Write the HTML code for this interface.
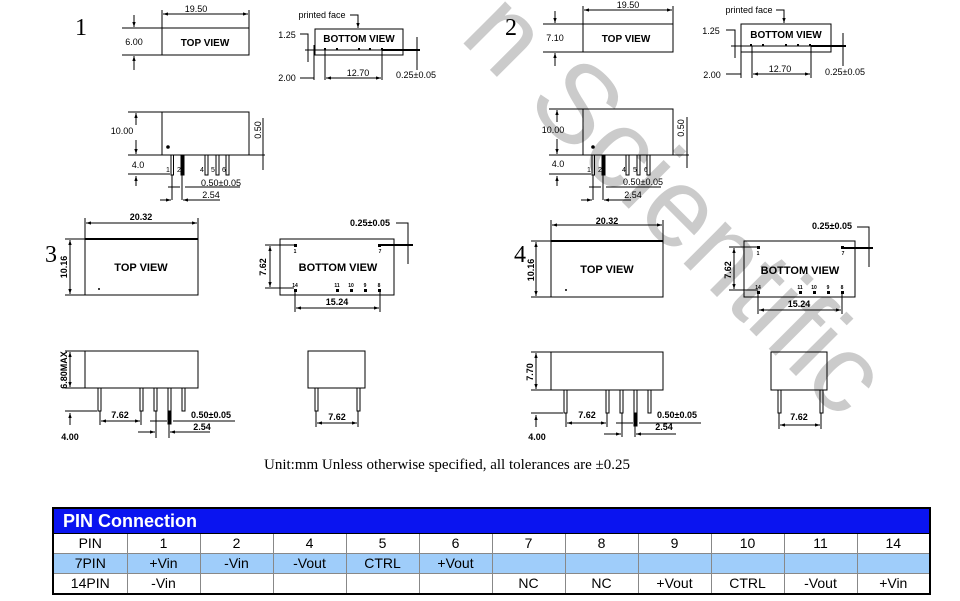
<!DOCTYPE html>
<html><head><meta charset="utf-8">
<style>
html,body{margin:0;padding:0;background:#fff;width:960px;height:601px;overflow:hidden}
svg{position:absolute;left:0;top:0}
.b{font-family:"Liberation Sans",Arial,sans-serif;font-weight:bold}
.n{font-family:"Liberation Sans",Arial,sans-serif}
.s{font-family:"Liberation Serif",serif}
table{position:absolute;left:52px;top:507px;width:877px;border-collapse:collapse;border:2px solid #000;font-family:"Liberation Sans",Arial,sans-serif;font-size:14px;table-layout:fixed}
td{border:1px solid #888;text-align:center;height:19px;padding:0;line-height:19px;overflow:hidden}
td.h{background:#0a14f0;color:#fff;font-weight:bold;font-size:18px;text-align:left;padding-left:9px;height:24px;line-height:24px;border:1px solid #000}
tr.c td{background:#9fcdfa}
</style></head><body>
<svg width="960" height="601" viewBox="0 0 960 601">
<text x="458" y="38" transform="rotate(45 458 38)" font-family="Liberation Sans,sans-serif" font-size="112" fill="#cbcbcb">n Scientific</text>
<defs>
<marker id="a" viewBox="0 0 6 6" refX="6" refY="3" markerWidth="5" markerHeight="5" orient="auto-start-reverse"><path d="M0,1 L6,3 L0,5z" fill="#000"/></marker>
</defs>
<g stroke="#000" stroke-width="1" fill="none">
<g id="d1">
<rect x="162" y="28" width="87" height="27"/>
<line x1="162" y1="10" x2="162" y2="28"/><line x1="249" y1="10" x2="249" y2="28"/>
<line x1="163" y1="14" x2="248" y2="14" marker-start="url(#a)" marker-end="url(#a)"/>
<line x1="122" y1="28" x2="162" y2="28"/><line x1="122" y1="55" x2="162" y2="55"/>
<line x1="134" y1="15" x2="134" y2="27" marker-end="url(#a)"/><line x1="134" y1="70" x2="134" y2="56" marker-end="url(#a)"/>
<rect x="315" y="29" width="88" height="26"/>
<polyline points="350,15 358,15 358,28" marker-end="url(#a)"/>
<line x1="305" y1="50" x2="382" y2="50"/><line x1="382" y1="50" x2="420" y2="50" stroke-width="2"/>
<line x1="314" y1="45" x2="314" y2="80"/><line x1="325" y1="50" x2="325" y2="80"/><line x1="382" y1="50" x2="382" y2="80"/>
<line x1="326" y1="78" x2="381" y2="78" marker-start="url(#a)" marker-end="url(#a)"/>
<line x1="300" y1="78" x2="314" y2="78"/>
<polyline points="300,34 308,34 308,62"/>
<line x1="417" y1="37" x2="417" y2="70"/>
<rect x="162" y="112" width="87" height="43"/>
<line x1="128" y1="112" x2="162" y2="112"/><line x1="128" y1="155" x2="162" y2="155"/>
<line x1="136" y1="113" x2="136" y2="125" marker-start="url(#a)"/><line x1="136" y1="140" x2="136" y2="154" marker-end="url(#a)"/>
<line x1="128" y1="174" x2="170" y2="174"/><line x1="136" y1="186" x2="136" y2="176" marker-end="url(#a)"/>
<line x1="249" y1="155" x2="265" y2="155"/><line x1="263" y1="118" x2="263" y2="170"/>
<rect x="171" y="155" width="2.5" height="20"/><rect x="181" y="155" width="3" height="20" fill="#000"/>
<rect x="205" y="155" width="3" height="20"/><rect x="216" y="155" width="3" height="20"/><rect x="226" y="155" width="3" height="20"/>
<line x1="172" y1="175" x2="172" y2="200"/><line x1="182" y1="175" x2="182" y2="200"/>
<line x1="168" y1="187" x2="180" y2="187"/><line x1="185" y1="187" x2="240" y2="187"/>
<line x1="160" y1="200" x2="171" y2="200" marker-end="url(#a)"/><line x1="210" y1="200" x2="183" y2="200" marker-end="url(#a)"/><line x1="210" y1="200" x2="220" y2="200"/>
</g>
<g transform="translate(421,-4)">
<rect x="162" y="28" width="90" height="28"/>
<line x1="162" y1="10" x2="162" y2="28"/><line x1="252" y1="10" x2="252" y2="28"/>
<line x1="163" y1="14" x2="251" y2="14" marker-start="url(#a)" marker-end="url(#a)"/>
<line x1="122" y1="28" x2="162" y2="28"/><line x1="122" y1="56" x2="162" y2="56"/>
<line x1="134" y1="15" x2="134" y2="27" marker-end="url(#a)"/><line x1="134" y1="70" x2="134" y2="57" marker-end="url(#a)"/>
<rect x="320" y="28" width="90" height="28"/>
<polyline points="355,14 363,14 363,27" marker-end="url(#a)"/>
<line x1="310" y1="50" x2="390" y2="50"/><line x1="390" y1="50" x2="425" y2="50" stroke-width="2"/>
<line x1="320" y1="45" x2="320" y2="82"/><line x1="331" y1="50" x2="331" y2="82"/><line x1="390" y1="50" x2="390" y2="82"/>
<line x1="332" y1="78" x2="389" y2="78" marker-start="url(#a)" marker-end="url(#a)"/>
<line x1="305" y1="78" x2="320" y2="78"/>
<polyline points="305,34 314,34 314,62"/>
<line x1="422" y1="37" x2="422" y2="70"/>
<rect x="162" y="113" width="90" height="46"/>
<line x1="128" y1="113" x2="162" y2="113"/><line x1="128" y1="159" x2="162" y2="159"/>
<line x1="136" y1="114" x2="136" y2="126" marker-start="url(#a)"/><line x1="136" y1="143" x2="136" y2="158" marker-end="url(#a)"/>
<line x1="128" y1="178" x2="170" y2="178"/><line x1="136" y1="190" x2="136" y2="180" marker-end="url(#a)"/>
<line x1="252" y1="159" x2="268" y2="159"/><line x1="266" y1="121" x2="266" y2="172"/>
<rect x="171" y="159" width="2.5" height="20"/><rect x="181" y="159" width="3" height="20" fill="#000"/>
<rect x="205" y="159" width="3" height="20"/><rect x="216" y="159" width="3" height="20"/><rect x="226" y="159" width="3" height="20"/>
<line x1="172" y1="179" x2="172" y2="204"/><line x1="182" y1="179" x2="182" y2="204"/>
<line x1="168" y1="191" x2="180" y2="191"/><line x1="185" y1="191" x2="240" y2="191"/>
<line x1="160" y1="204" x2="171" y2="204" marker-end="url(#a)"/><line x1="210" y1="204" x2="183" y2="204" marker-end="url(#a)"/>
</g>
<g id="d3">
<rect x="85" y="239" width="113" height="56"/><line x1="85" y1="239" x2="198" y2="239" stroke-width="2"/>
<line x1="85" y1="218" x2="85" y2="239"/><line x1="198" y1="218" x2="198" y2="239"/>
<line x1="86" y1="223" x2="197" y2="223" marker-start="url(#a)" marker-end="url(#a)"/>
<line x1="65" y1="239" x2="85" y2="239"/><line x1="65" y1="295" x2="85" y2="295"/>
<line x1="70" y1="240" x2="70" y2="294" marker-start="url(#a)" marker-end="url(#a)"/>
<rect x="280" y="239" width="114" height="56"/>
<line x1="265" y1="245" x2="294" y2="245"/><line x1="265" y1="288" x2="294" y2="288"/>
<line x1="270" y1="246" x2="270" y2="287" marker-start="url(#a)" marker-end="url(#a)"/>
<line x1="295" y1="290" x2="295" y2="312"/><line x1="380" y1="290" x2="380" y2="312"/>
<line x1="296" y1="308" x2="379" y2="308" marker-start="url(#a)" marker-end="url(#a)"/>
<polyline points="396,223 408,223 408,264"/><line x1="380" y1="245" x2="413" y2="245" stroke-width="2"/>
<rect x="85" y="351" width="113" height="37"/>
<line x1="65" y1="351" x2="85" y2="351"/><line x1="65" y1="388" x2="85" y2="388"/>
<line x1="70" y1="352" x2="70" y2="387" marker-start="url(#a)" marker-end="url(#a)"/>
<line x1="65" y1="411" x2="97" y2="411"/><line x1="70" y1="425" x2="70" y2="413" marker-end="url(#a)"/>
<rect x="98" y="388" width="3" height="23"/><rect x="140" y="388" width="3" height="23"/><rect x="154" y="388" width="3" height="23"/><rect x="168" y="388" width="3" height="23" /><rect x="182" y="388" width="3" height="23"/>
<line x1="100" y1="411" x2="100" y2="425"/><line x1="141" y1="411" x2="141" y2="425"/>
<line x1="101" y1="421" x2="140" y2="421" marker-start="url(#a)" marker-end="url(#a)"/>
<line x1="156" y1="411" x2="156" y2="438"/><line x1="169" y1="411" x2="169" y2="438"/><rect x="168" y="411" width="3" height="13" fill="#000"/>
<line x1="150" y1="421" x2="167" y2="421"/><line x1="173" y1="421" x2="235" y2="421"/>
<line x1="138" y1="432" x2="155" y2="432" marker-end="url(#a)"/><line x1="210" y1="432" x2="170" y2="432" marker-end="url(#a)"/>
<rect x="308" y="351" width="57" height="37"/>
<rect x="315" y="388" width="3" height="23"/><rect x="357" y="388" width="3" height="23"/>
<line x1="316" y1="411" x2="316" y2="427"/><line x1="358" y1="411" x2="358" y2="427"/>
<line x1="317" y1="423" x2="357" y2="423" marker-start="url(#a)" marker-end="url(#a)"/>
</g>
<g transform="translate(466,2)">
<rect x="85" y="239" width="112" height="56"/><line x1="85" y1="239" x2="197" y2="239" stroke-width="2"/>
<line x1="85" y1="218" x2="85" y2="239"/><line x1="197" y1="218" x2="197" y2="239"/>
<line x1="86" y1="223" x2="196" y2="223" marker-start="url(#a)" marker-end="url(#a)"/>
<line x1="65" y1="239" x2="85" y2="239"/><line x1="65" y1="295" x2="85" y2="295"/>
<line x1="70" y1="240" x2="70" y2="294" marker-start="url(#a)" marker-end="url(#a)"/>
<rect x="278" y="239" width="111" height="56"/>
<line x1="263" y1="245" x2="292" y2="245"/><line x1="263" y1="288" x2="292" y2="288"/>
<line x1="268" y1="246" x2="268" y2="287" marker-start="url(#a)" marker-end="url(#a)"/>
<line x1="292" y1="290" x2="292" y2="312"/><line x1="376" y1="290" x2="376" y2="312"/>
<line x1="293" y1="308" x2="375" y2="308" marker-start="url(#a)" marker-end="url(#a)"/>
<polyline points="391,225 403,225 403,265"/><line x1="376" y1="246" x2="407" y2="246" stroke-width="2"/>
<rect x="85" y="350" width="112" height="38"/>
<line x1="65" y1="350" x2="85" y2="350"/><line x1="65" y1="388" x2="85" y2="388"/>
<line x1="70" y1="351" x2="70" y2="387" marker-start="url(#a)" marker-end="url(#a)"/>
<line x1="65" y1="411" x2="97" y2="411"/><line x1="70" y1="425" x2="70" y2="413" marker-end="url(#a)"/>
<rect x="98" y="388" width="3" height="23"/><rect x="140" y="388" width="3" height="23"/><rect x="154" y="388" width="3" height="23"/><rect x="168" y="388" width="3" height="23"/><rect x="182" y="388" width="3" height="23"/>
<line x1="100" y1="411" x2="100" y2="425"/><line x1="141" y1="411" x2="141" y2="425"/>
<line x1="101" y1="421" x2="140" y2="421" marker-start="url(#a)" marker-end="url(#a)"/>
<line x1="156" y1="411" x2="156" y2="435"/><line x1="169" y1="411" x2="169" y2="435"/><rect x="168" y="411" width="3" height="13" fill="#000"/>
<line x1="150" y1="421" x2="167" y2="421"/><line x1="173" y1="421" x2="235" y2="421"/>
<line x1="138" y1="432" x2="155" y2="432" marker-end="url(#a)"/><line x1="210" y1="432" x2="170" y2="432" marker-end="url(#a)"/>
<rect x="305" y="350" width="56" height="38"/>
<rect x="312" y="388" width="3" height="23"/><rect x="354" y="388" width="3" height="23"/>
<line x1="313" y1="411" x2="313" y2="427"/><line x1="355" y1="411" x2="355" y2="427"/>
<line x1="314" y1="423" x2="354" y2="423" marker-start="url(#a)" marker-end="url(#a)"/>
</g>
</g>
<g fill="#000">
<rect x="324" y="48" width="2" height="2"/><rect x="336" y="48" width="2" height="2"/><rect x="358" y="48" width="2" height="2"/><rect x="369" y="48" width="2" height="2"/><rect x="381" y="48" width="2" height="2"/>
<rect x="750" y="44" width="2" height="2"/><rect x="762" y="44" width="2" height="2"/><rect x="785" y="44" width="2" height="2"/><rect x="797" y="44" width="2" height="2"/><rect x="809" y="44" width="2" height="2"/>
<circle cx="168" cy="147" r="1.8"/><circle cx="593" cy="147" r="1.8"/>
<circle cx="99" cy="289" r="1"/><circle cx="566" cy="290" r="1"/>
<g><rect x="294" y="244" width="3" height="3"/><rect x="378" y="244" width="3" height="3"/><rect x="294" y="289" width="3" height="3"/><rect x="336" y="289" width="3" height="3"/><rect x="350" y="289" width="3" height="3"/><rect x="364" y="289" width="3" height="3"/><rect x="378" y="289" width="3" height="3"/></g>
<g transform="translate(463,2)"><rect x="294" y="244" width="3" height="3"/><rect x="378" y="244" width="3" height="3"/><rect x="294" y="289" width="3" height="3"/><rect x="336" y="289" width="3" height="3"/><rect x="350" y="289" width="3" height="3"/><rect x="364" y="289" width="3" height="3"/><rect x="378" y="289" width="3" height="3"/></g>
</g>
<g class="s" font-size="24">
<text x="75" y="35">1</text><text x="505" y="35">2</text><text x="45" y="262">3</text><text x="514" y="262">4</text>
</g>
<g class="b" font-size="10" text-anchor="middle">
<text x="205" y="46">TOP VIEW</text><text x="626" y="42">TOP VIEW</text>
<text x="359" y="42">BOTTOM VIEW</text><text x="786" y="38">BOTTOM VIEW</text>
<text x="141" y="271" font-size="11">TOP VIEW</text><text x="607" y="273" font-size="11">TOP VIEW</text>
<text x="338" y="271" font-size="11">BOTTOM VIEW</text><text x="800" y="274" font-size="11">BOTTOM VIEW</text>
<text x="141" y="220" font-size="9">20.32</text><text x="607" y="224" font-size="9">20.32</text>
<text x="337" y="305" font-size="9">15.24</text><text x="799" y="307" font-size="9">15.24</text>
<text x="370" y="226" font-size="9">0.25±0.05</text><text x="832" y="229" font-size="9">0.25±0.05</text>
<text x="120" y="418" font-size="9">7.62</text><text x="587" y="418" font-size="9">7.62</text>
<text x="211" y="418" font-size="9">0.50±0.05</text><text x="677" y="418" font-size="9">0.50±0.05</text>
<text x="202" y="430" font-size="9">2.54</text><text x="664" y="430" font-size="9">2.54</text>
<text x="337" y="420" font-size="9">7.62</text><text x="799" y="420" font-size="9">7.62</text>
<text x="70" y="440" font-size="9">4.00</text><text x="537" y="440" font-size="9">4.00</text>
<text transform="translate(67,267) rotate(-90)" font-size="9">10.16</text><text transform="translate(534,270) rotate(-90)" font-size="9">10.16</text>
<text transform="translate(266,267) rotate(-90)" font-size="9">7.62</text><text transform="translate(731,270) rotate(-90)" font-size="9">7.62</text>
<text transform="translate(67,370) rotate(-90)" font-size="9">6.80MAX</text><text transform="translate(533,372) rotate(-90)" font-size="9">7.70</text>
</g>
<g class="b" font-size="5" text-anchor="middle">
<text x="295" y="253">1</text><text x="380" y="253">7</text><text x="295" y="287">14</text><text x="337" y="287">11</text><text x="351" y="287">10</text><text x="365" y="287">9</text><text x="379" y="287">8</text>
<text x="758" y="255">1</text><text x="843" y="255">7</text><text x="758" y="289">14</text><text x="800" y="289">11</text><text x="814" y="289">10</text><text x="828" y="289">9</text><text x="842" y="289">8</text>
</g>
<g class="n" font-size="9" text-anchor="middle">
<text x="196" y="12">19.50</text><text x="628" y="8">19.50</text>
<text x="134" y="45">6.00</text><text x="555" y="41">7.10</text>
<text x="322" y="18">printed face</text><text x="749" y="13">printed face</text>
<text x="287" y="38">1.25</text><text x="711" y="34">1.25</text>
<text x="287" y="81">2.00</text><text x="712" y="78">2.00</text>
<text x="358" y="76">12.70</text><text x="780" y="72">12.70</text>
<text x="416" y="78">0.25±0.05</text><text x="845" y="75">0.25±0.05</text>
<text x="122" y="134">10.00</text><text x="553" y="133">10.00</text>
<text x="138" y="168">4.0</text><text x="558" y="167">4.0</text>
<text x="221" y="186">0.50±0.05</text><text x="643" y="185">0.50±0.05</text>
<text x="211" y="198">2.54</text><text x="633" y="198">2.54</text>
<text transform="translate(261,130) rotate(-90)">0.50</text><text transform="translate(684,128) rotate(-90)">0.50</text>
<g font-size="7"><text x="168" y="172">1</text><text x="179" y="172">2</text><text x="202" y="172">4</text><text x="213" y="172">5</text><text x="224" y="172">6</text>
<text x="589" y="172">1</text><text x="600" y="172">2</text><text x="624" y="172">4</text><text x="635" y="172">5</text><text x="646" y="172">6</text></g>
</g>
<text x="264" y="469" class="s" font-size="15">Unit:mm Unless otherwise specified, all tolerances are  ±0.25</text>
</svg>
<table>
<colgroup><col style="width:74px"><col style="width:73px"><col style="width:73px"><col style="width:73px"><col style="width:73px"><col style="width:73px"><col style="width:73px"><col style="width:73px"><col style="width:73px"><col style="width:73px"><col style="width:73px"><col style="width:73px"></colgroup>
<tr><td class="h" colspan="12">PIN Connection</td></tr>
<tr><td>PIN</td><td>1</td><td>2</td><td>4</td><td>5</td><td>6</td><td>7</td><td>8</td><td>9</td><td>10</td><td>11</td><td>14</td></tr>
<tr class="c"><td>7PIN</td><td>+Vin</td><td>-Vin</td><td>-Vout</td><td>CTRL</td><td>+Vout</td><td></td><td></td><td></td><td></td><td></td><td></td></tr>
<tr><td>14PIN</td><td>-Vin</td><td></td><td></td><td></td><td></td><td>NC</td><td>NC</td><td>+Vout</td><td>CTRL</td><td>-Vout</td><td>+Vin</td></tr>
</table>
</body></html>
